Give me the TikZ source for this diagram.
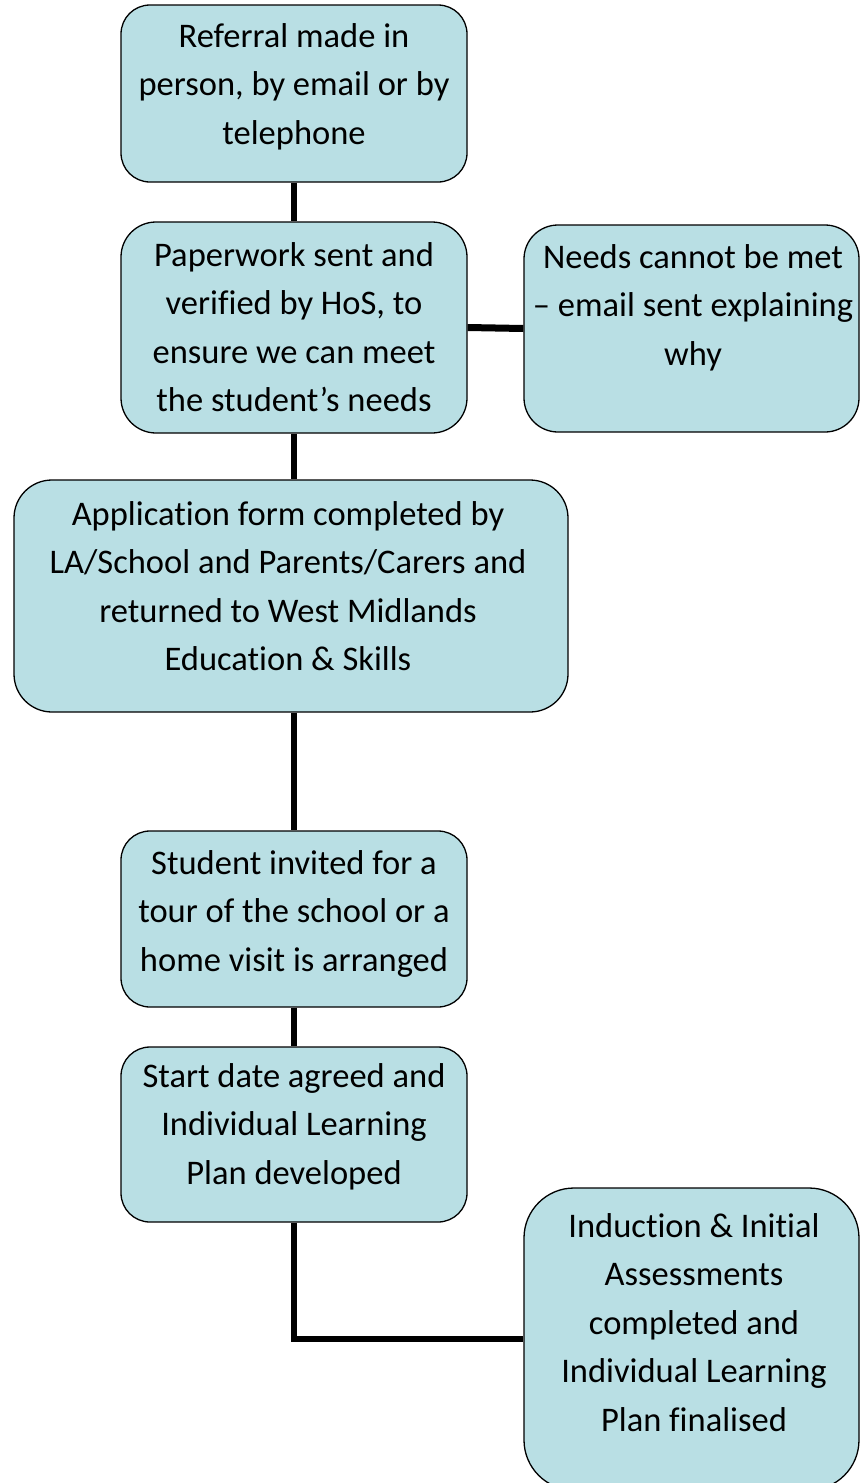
\documentclass[tikz,border=0pt]{standalone}
\usepackage{fontspec}
\setmainfont{Carlito}[Ligatures=NoCommon]
\definecolor{boxfill}{RGB}{185,223,228}
\begin{document}
\begin{tikzpicture}[x=1pt,y=-1pt,
  box/.style={draw=black, line width=1.3pt, fill=boxfill, inner sep=0pt, minimum width=346pt},
  lbl/.style={align=center, inner sep=0pt, anchor=north, font=\fontsize{34.5}{48.5}\selectfont},
  link/.style={line width=6pt}]
\useasboundingbox (0,0) rectangle (861,1483);
% boxes
\node[box, rounded corners=29pt, minimum height=177pt] (b1) at (294,93.5) {};
\node[box, rounded corners=35pt, minimum height=211pt] (b2) at (294,327.5) {};
\node[box, rounded corners=34pt, minimum width=335pt, minimum height=207pt] (b3) at (691.5,328.5) {};
\node[box, rounded corners=38pt, minimum width=554pt, minimum height=232pt] (b4) at (291,596) {};
\node[box, rounded corners=29pt, minimum height=176pt] (b5) at (294,919) {};
\node[box, rounded corners=29pt, minimum height=175pt] (b6) at (294,1134.5) {};
\node[box, rounded corners=50pt, minimum width=335pt, minimum height=302pt] (b7) at (691.5,1339) {};
% texts
\node[lbl] (t1) at (294,13) {\strut Referral made in\\person, by email or by\\telephone};
\node[lbl] (t2) at (294,232) {\strut Paperwork sent and\\verified by HoS, to\\ensure we can meet\\the student’s needs};
\node[lbl] (t3) at (693,234) {\strut Needs cannot be met\\– email sent explaining\\why};
\node[lbl] (t4) at (288,491) {\strut Application form completed by\\LA/School and Parents/Carers and\\returned to West Midlands\\Education \& Skills};
\node[lbl] (t5) at (294,840) {\strut Student invited for a\\tour of the school or a\\home visit is arranged};
\node[lbl] (t6) at (294,1053) {\strut Start date agreed and\\Individual Learning\\Plan developed};
\node[lbl] (t7) at (694,1203) {\strut Induction \& Initial\\Assessments\\completed and\\Individual Learning\\Plan finalised};
% connectors
\draw[link] (b1.south) -- (b2.north);
\draw[link, line width=7pt] (b2.east) -- (b3.west);
\draw[link] (b2.south) -- (b2.south |- b4.north);
\draw[link] (b5.north |- b4.south) -- (b5.north);
\draw[link] (b5.south) -- (b6.north);
\draw[link] (b6.south) |- (b7.west);
\end{tikzpicture}
\end{document}
